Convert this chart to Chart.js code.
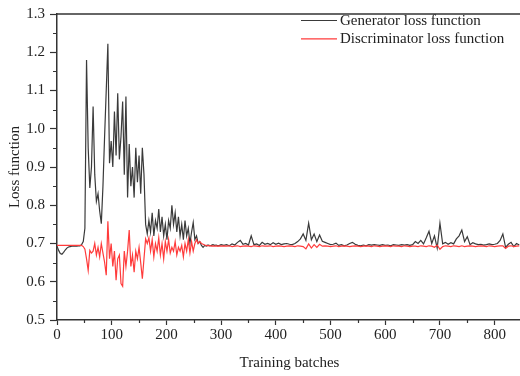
<!DOCTYPE html>
<html>
<head>
<meta charset="utf-8">
<script src="https://cdn.jsdelivr.net/npm/chart.js@4/dist/chart.umd.min.js"></script>
<style>
  html, body { margin: 0; padding: 0; overflow: hidden; background: #fff; }
</style>
</head>
<body>
<canvas id="lossChart" width="524" height="376"></canvas>
<script>
const SERIF = '"Liberation Serif", "Times New Roman", serif';

// ---- data ----
const batches = [
  0, 3, 6, 9, 12, 15, 18, 21, 24, 27,
  30, 33, 36, 39, 42, 45, 48, 51, 54, 57,
  60, 63, 66, 69, 72, 75, 78, 81, 84, 87,
  90, 93, 96, 99, 102, 105, 108, 111, 114, 117,
  120, 123, 126, 129, 132, 135, 138, 141, 144, 147,
  150, 153, 156, 159, 162, 165, 168, 171, 174, 177,
  180, 183, 186, 189, 192, 195, 198, 201, 204, 207,
  210, 213, 216, 219, 222, 225, 228, 231, 234, 237,
  240, 243, 246, 249, 252, 255, 258, 261, 264, 267,
  270, 273, 276, 279, 282, 285, 288, 291, 294, 297,
  300,
  305, 310, 315, 320, 325, 330, 335, 340, 345, 350,
  355, 360, 365, 370, 375, 380, 385, 390, 395, 400,
  405, 410, 415, 420, 425, 430, 435, 440, 445, 450,
  455, 460, 465, 470, 475, 480, 485, 490, 495, 500,
  505, 510, 515, 520, 525, 530, 535, 540, 545, 550,
  555, 560, 565, 570, 575, 580, 585, 590, 595, 600,
  605, 610, 615, 620, 625, 630, 635, 640, 645, 650,
  655, 660, 665, 670, 675, 680, 685, 690, 695, 700,
  705, 710, 715, 720, 725, 730, 735, 740, 745, 750,
  755, 760, 765, 770, 775, 780, 785, 790, 795, 800,
  805, 810, 815, 820, 825, 830, 835, 840, 845
];

const generatorLoss = [
  0.693, 0.682, 0.674, 0.672, 0.677, 0.683, 0.688, 0.691, 0.692, 0.693,
  0.693, 0.693, 0.693, 0.694, 0.694, 0.697, 0.705, 0.740, 1.180, 0.950,
  0.845, 0.900, 1.058, 0.880, 0.810, 0.830, 0.785, 0.752, 0.850, 0.980,
  1.100, 1.222, 0.910, 0.968, 0.900, 1.045, 0.930, 1.093, 0.920, 0.980,
  1.071, 0.880, 1.084, 0.820, 0.960, 0.850, 0.900, 0.820, 0.950, 0.860,
  0.930, 0.830, 0.950, 0.880, 0.750, 0.725, 0.760, 0.730, 0.780, 0.720,
  0.760, 0.740, 0.790, 0.730, 0.770, 0.720, 0.750, 0.710, 0.760, 0.740,
  0.800, 0.750, 0.780, 0.730, 0.770, 0.720, 0.750, 0.710, 0.760, 0.720,
  0.740, 0.700, 0.730, 0.755, 0.710, 0.720, 0.700, 0.705, 0.695, 0.690,
  0.695, 0.693, 0.696, 0.694, 0.695, 0.697, 0.695, 0.696, 0.694, 0.695,
  0.697,
  0.695, 0.697, 0.694, 0.699, 0.696, 0.703, 0.708, 0.698, 0.700, 0.696,
  0.720, 0.697, 0.699, 0.695, 0.703, 0.698, 0.700, 0.697, 0.702, 0.698,
  0.701, 0.697, 0.699, 0.700, 0.698, 0.697, 0.700, 0.705, 0.712, 0.725,
  0.708, 0.753, 0.710, 0.725, 0.705, 0.722, 0.706, 0.703, 0.700, 0.697,
  0.698, 0.701, 0.695, 0.697, 0.694, 0.696, 0.700, 0.703, 0.698, 0.695,
  0.694, 0.696, 0.694, 0.697, 0.696, 0.697, 0.696, 0.695, 0.697, 0.695,
  0.696, 0.694, 0.697, 0.696, 0.695, 0.697, 0.696, 0.697, 0.695, 0.697,
  0.705, 0.700, 0.708, 0.699, 0.715, 0.732, 0.700, 0.720, 0.688, 0.753,
  0.699, 0.703, 0.698, 0.702, 0.699, 0.712, 0.720, 0.735, 0.705, 0.718,
  0.697, 0.702, 0.699, 0.697, 0.698, 0.696, 0.697, 0.699, 0.697, 0.698,
  0.700, 0.708, 0.725, 0.690, 0.698, 0.703, 0.692, 0.700, 0.696
];

const discriminatorLoss = [
  0.695, 0.695, 0.695, 0.695, 0.695, 0.695, 0.695, 0.695, 0.695, 0.695,
  0.695, 0.695, 0.695, 0.695, 0.695, 0.695, 0.692, 0.685, 0.660, 0.630,
  0.682, 0.675, 0.680, 0.700, 0.670, 0.690, 0.665, 0.700, 0.675, 0.651,
  0.617, 0.758, 0.660, 0.700, 0.640, 0.680, 0.604, 0.660, 0.670, 0.595,
  0.588, 0.680, 0.640, 0.680, 0.735, 0.640, 0.670, 0.625, 0.680, 0.660,
  0.690, 0.650, 0.608, 0.660, 0.712, 0.700, 0.715, 0.680, 0.710, 0.665,
  0.700, 0.680, 0.715, 0.670, 0.700, 0.660, 0.705, 0.680, 0.710, 0.675,
  0.690, 0.680, 0.705, 0.670, 0.690, 0.680, 0.695, 0.665, 0.700, 0.680,
  0.710, 0.675, 0.705, 0.680, 0.700, 0.710, 0.700, 0.705, 0.700, 0.698,
  0.696, 0.695, 0.694, 0.695, 0.693, 0.694, 0.693, 0.694, 0.693, 0.694,
  0.693,
  0.694, 0.693, 0.694, 0.692, 0.693, 0.694, 0.692, 0.693, 0.694, 0.693,
  0.692, 0.694, 0.693, 0.692, 0.694, 0.693, 0.693, 0.694, 0.692, 0.693,
  0.694, 0.693, 0.692, 0.693, 0.694, 0.693, 0.692, 0.694, 0.693, 0.692,
  0.686, 0.699, 0.688, 0.697, 0.690, 0.698, 0.693, 0.694, 0.693, 0.692,
  0.693, 0.694, 0.692, 0.693, 0.694, 0.693, 0.692, 0.693, 0.694, 0.693,
  0.692, 0.693, 0.694, 0.693, 0.692, 0.694, 0.693, 0.692, 0.693, 0.694,
  0.693, 0.692, 0.694, 0.693, 0.693, 0.692, 0.694, 0.693, 0.692, 0.693,
  0.693, 0.692, 0.694, 0.693, 0.692, 0.694, 0.693, 0.690, 0.696, 0.685,
  0.692, 0.694, 0.693, 0.692, 0.694, 0.693, 0.692, 0.694, 0.692, 0.693,
  0.694, 0.693, 0.692, 0.693, 0.694, 0.693, 0.692, 0.694, 0.693, 0.692,
  0.693, 0.694, 0.694, 0.687, 0.693, 0.694, 0.692, 0.693, 0.694
];

const seriesLabels = ["Generator loss function", "Discriminator loss function"];

// ---- frame: top border + minor ticks ----
const framePlugin = {
  id: "frame",
  afterDraw(chart) {
    const { ctx, chartArea: a, scales: { x, y } } = chart;
    ctx.save();
    ctx.strokeStyle = "#333";
    ctx.lineWidth = 1.5;
    ctx.beginPath();
    ctx.moveTo(a.left, a.top);
    ctx.lineTo(a.right + 2, a.top);
    ctx.stroke();

    ctx.lineWidth = 1.2;
    ctx.beginPath();
    for (let i = 0; i < x.ticks.length; i++) {
      const v = x.ticks[i].value + 50;
      if (v > x.max) break;
      const px = Math.round(x.getPixelForValue(v)) + 0.5;
      ctx.moveTo(px, a.bottom);
      ctx.lineTo(px, a.bottom + 3);
    }
    for (let i = 0; i < y.ticks.length - 1; i++) {
      const v = (y.ticks[i].value + y.ticks[i + 1].value) / 2;
      const py = Math.round(y.getPixelForValue(v)) + 0.5;
      ctx.moveTo(a.left, py);
      ctx.lineTo(a.left - 4, py);
    }
    ctx.stroke();
    ctx.restore();
  }
};

// ---- legend inside the plot, top right ----
const insideLegend = {
  id: "insideLegend",
  afterDraw(chart) {
    const { ctx, chartArea: a } = chart;
    ctx.save();
    ctx.font = "15px " + SERIF;
    ctx.textBaseline = "middle";
    chart.data.datasets.forEach((ds, i) => {
      const yy = a.top + 6.5 + i * 18.4;
      const xx = a.left + 244;
      ctx.strokeStyle = ds.borderColor;
      ctx.lineWidth = 1.2;
      ctx.beginPath();
      ctx.moveTo(xx, yy);
      ctx.lineTo(xx + 36, yy);
      ctx.stroke();
      ctx.fillStyle = "#222";
      ctx.fillText(ds.label, xx + 39, yy + 0.5);
    });
    ctx.restore();
  }
};

new Chart(document.getElementById("lossChart"), {
  type: "line",
  data: {
    datasets: [
      {
        label: seriesLabels[0],
        data: batches.map((b, i) => ({ x: b, y: generatorLoss[i] })),
        borderColor: "#3a3a3a",
        borderWidth: 1.2,
        pointRadius: 0,
        tension: 0,
        order: 1
      },
      {
        label: seriesLabels[1],
        data: batches.map((b, i) => ({ x: b, y: discriminatorLoss[i] })),
        borderColor: "#ff3b3b",
        borderWidth: 1.2,
        pointRadius: 0,
        tension: 0,
        order: 0
      }
    ]
  },
  options: {
    responsive: false,
    animation: false,
    layout: { padding: { top: 12, right: 2, left: 0, bottom: 0 } },
    plugins: { legend: { display: false }, tooltip: { enabled: false } },
    scales: {
      x: {
        type: "linear",
        min: 0,
        max: 850,
        ticks: {
          stepSize: 100,
          includeBounds: false,
          autoSkip: false,
          maxRotation: 0,
          padding: 1,
          color: "#222",
          font: { family: SERIF, size: 15 }
        },
        grid: { drawOnChartArea: false, tickLength: 5, tickColor: "#333", tickWidth: 1.2 },
        border: { color: "#333", width: 1.5 },
        title: {
          display: true,
          text: "Training batches",
          color: "#222",
          font: { family: SERIF, size: 15 },
          padding: { top: 0, bottom: 4 }
        },
        afterFit(s) { s.height = 56; }
      },
      y: {
        min: 0.5,
        max: 1.3,
        ticks: {
          stepSize: 0.1,
          includeBounds: false,
          padding: 5,
          color: "#222",
          font: { family: SERIF, size: 15 },
          callback: (v) => v.toFixed(1)
        },
        grid: { drawOnChartArea: false, tickLength: 7, tickColor: "#333", tickWidth: 1.2 },
        border: { color: "#333", width: 1.5 },
        title: {
          display: true,
          text: "Loss function",
          color: "#222",
          font: { family: SERIF, size: 15 },
          padding: { top: 6, bottom: 0 }
        },
        afterFit(s) { s.width = 57; }
      }
    }
  },
  plugins: [framePlugin, insideLegend]
});
</script>
</body>
</html>
